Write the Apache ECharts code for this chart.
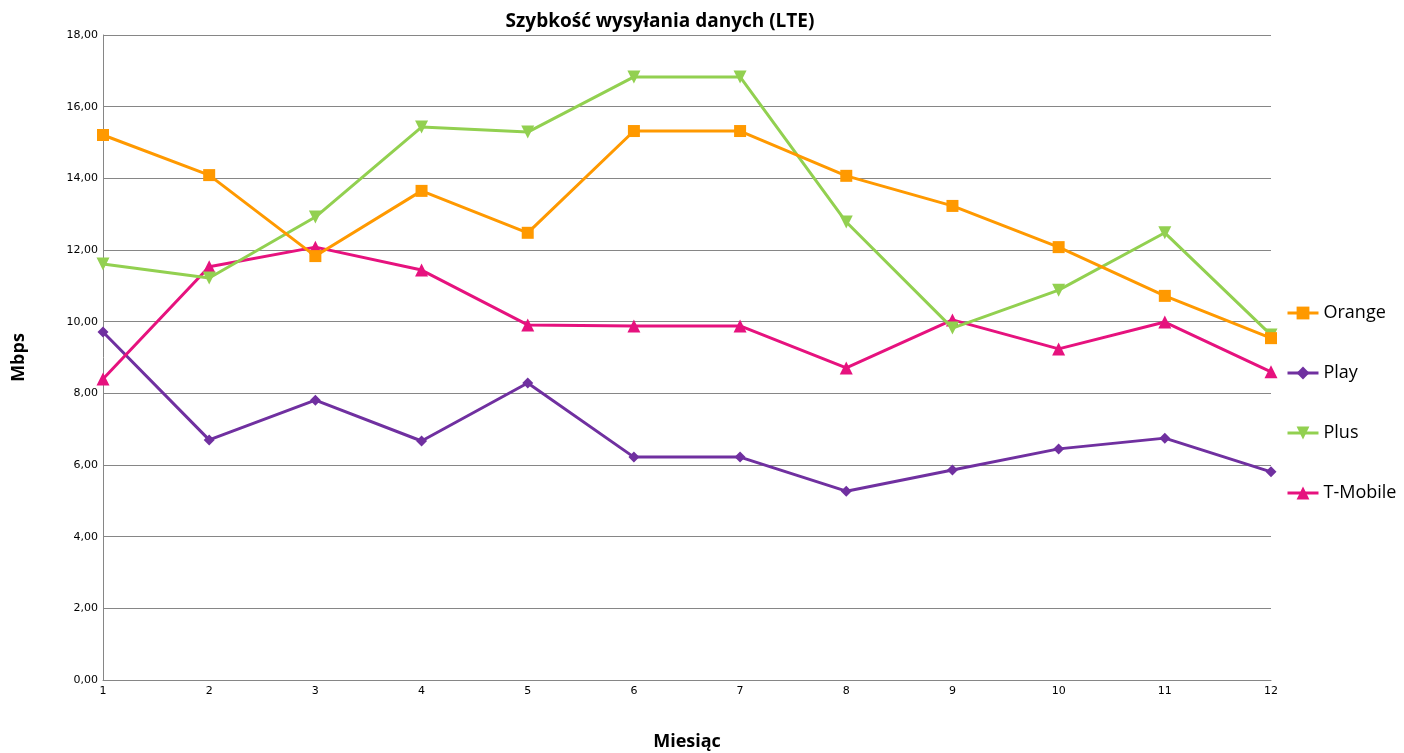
<!DOCTYPE html>
<html><head><meta charset="utf-8">
<script src="https://cdn.jsdelivr.net/npm/echarts@6/dist/echarts.min.js"></script>
<style>html,body{margin:0;padding:0;background:#fff}#c{width:1404px;height:753px}</style>
</head><body><div id="c"></div>
<script>
const months = ['1','2','3','4','5','6','7','8','9','10','11','12'];
const orange = [15.21,14.09,11.83,13.65,12.48,15.32,15.32,14.07,13.23,12.08,10.72,9.54];
const play = [9.71,6.70,7.81,6.67,8.29,6.22,6.22,5.27,5.86,6.45,6.75,5.81];
const plus = [11.61,11.22,12.92,15.43,15.29,16.83,16.83,12.78,9.82,10.88,12.48,9.63];
const tmobile = [8.40,11.53,12.08,11.44,9.91,9.88,9.88,8.71,10.05,9.24,9.99,8.60];
const seriesNames = ['Orange','Play','Plus','T-Mobile'];
const colors = ['#FF9900','#7030A0','#92D050','#E6127E'];
const symbols = ['rect','diamond','triangle','triangle'];
const symRot = [0,0,180,0];
const symSize = [12,11,13,13];
const values = [orange, play, plus, tmobile];

const chart = echarts.init(document.getElementById('c'));
chart.setOption({
  animation:false,
  backgroundColor:'#fff',
  title:{text:'Szybkość wysyłania danych (LTE)',left:655,top:7,textAlign:'center',
    textStyle:{fontFamily:'Open Sans',fontWeight:'bold',fontSize:19,color:'#000'}},
  grid:{left:103,right:133,top:35,bottom:73,containLabel:false,outerBoundsMode:'none'},
  legend:{orient:'vertical',left:1281,top:299,itemGap:42,itemWidth:31,itemHeight:16,
    lineStyle:{width:3},
    textStyle:{fontFamily:'Open Sans',fontSize:18,color:'#000'},
    data:seriesNames},
  xAxis:{type:'category',data:months,boundaryGap:false,
    name:'Miesiąc',nameLocation:'middle',nameGap:53,
    nameTextStyle:{fontFamily:'Open Sans',fontWeight:'bold',fontSize:18,color:'#000'},
    axisLine:{lineStyle:{color:'#868686',width:1}},
    axisTick:{show:false},
    axisLabel:{fontFamily:'DejaVu Sans',fontSize:11,color:'#000',margin:6},
    splitLine:{show:false}},
  yAxis:{type:'value',min:0,max:18,interval:2,
    name:'Mbps',nameLocation:'middle',nameGap:75,nameRotate:90,
    nameTextStyle:{fontFamily:'Open Sans',fontWeight:'bold',fontSize:18,color:'#000'},
    axisLine:{show:true,lineStyle:{color:'#868686',width:1}},
    axisTick:{show:false},
    axisLabel:{fontFamily:'DejaVu Sans',fontSize:11,color:'#000',margin:5,
      formatter:v=>v.toFixed(2).replace('.',',')},
    splitLine:{lineStyle:{color:'#868686',width:1}}},
  series:values.map((d,i)=>({
    name:seriesNames[i],type:'line',data:d,
    symbol:symbols[i],symbolSize:symSize[i],symbolRotate:symRot[i],showAllSymbol:true,
    lineStyle:{color:colors[i],width:3},
    itemStyle:{color:colors[i]},
    z:[4,1,3,2][i]
  }))
});
</script></body></html>
